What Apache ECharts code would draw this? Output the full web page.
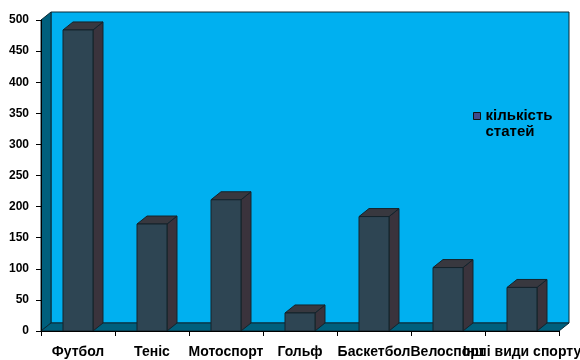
<!DOCTYPE html>
<html>
<head>
<meta charset="utf-8">
<script src="https://cdn.jsdelivr.net/npm/echarts@6/dist/echarts.min.js"></script>
<style>
  html, body { margin: 0; padding: 0; background: #ffffff; }
  #chart { width: 580px; height: 360px; }
</style>
</head>
<body>
<div id="chart"></div>
<script>
// Sports and the number of articles written about each
const categories = ['Футбол', 'Теніс', 'Мотоспорт', 'Гольф', 'Баскетбол', 'Велоспорт', 'Інші види спорту'];
const articleCounts = [484, 172, 211, 29, 184, 102, 70];
const seriesName = 'кількість статей';
const yTicks = { min: 0, max: 500, step: 50 };

// 3D depth offset of the plot box (px)
const DX = 10, DY = -8;

const FONT = '"Liberation Sans", Arial, sans-serif';

function pts(list) { return list.map(p => [p[0], p[1]]); }

// Walls and floor of the 3D plot box, built from the grid's own rectangle
function renderFrame(params, api) {
  const cs = params.coordSys;
  const x0 = cs.x, y0 = cs.y, w = cs.width, h = cs.height;
  const line = { stroke: '#0a2a36', lineWidth: 1 };
  return {
    type: 'group',
    children: [
      { type: 'rect', shape: { x: x0 + DX, y: y0 + DY, width: w, height: h },
        style: Object.assign({ fill: '#00b0f0' }, line) },
      { type: 'polygon', shape: { points: pts([[x0, y0 + h], [x0, y0], [x0 + DX, y0 + DY], [x0 + DX, y0 + h + DY]]) },
        style: Object.assign({ fill: '#005f7c' }, line) },
      { type: 'polygon', shape: { points: pts([[x0, y0 + h], [x0 + w, y0 + h], [x0 + w + DX, y0 + h + DY], [x0 + DX, y0 + h + DY]]) },
        style: Object.assign({ fill: '#005f7c' }, line) }
    ]
  };
}

// One 3D column: front face, top face and right side face
function renderBar(params, api) {
  const idx = api.value(0);
  const top = api.coord([idx, api.value(1)]);
  const base = api.coord([idx, 0]);
  const bw = api.size([1, 0])[0] * 0.405;
  const xl = top[0] - bw / 2, xr = top[0] + bw / 2;
  const yt = top[1], yb = base[1];
  const edge = { stroke: '#14232b', lineWidth: 1 };
  return {
    type: 'group',
    children: [
      { type: 'polygon', shape: { points: pts([[xr, yt], [xr + DX, yt + DY], [xr + DX, yb + DY], [xr, yb]]) },
        style: Object.assign({ fill: '#3a333c' }, edge) },
      { type: 'polygon', shape: { points: pts([[xl, yt], [xl + DX, yt + DY], [xr + DX, yt + DY], [xr, yt]]) },
        style: Object.assign({ fill: '#38383f' }, edge) },
      { type: 'rect', shape: { x: xl, y: yt, width: bw, height: yb - yt },
        style: Object.assign({ fill: '#2e4553' }, edge) }
    ]
  };
}

const chart = echarts.init(document.getElementById('chart'), null, { renderer: 'canvas' });

chart.setOption({
  animation: false,
  backgroundColor: '#ffffff',
  grid: { left: 41, right: 21, top: 20, bottom: 29, containLabel: false, outerBoundsMode: 'none' },
  legend: {
    data: [seriesName],
    left: 473,
    top: 92,
    padding: 0,
    orient: 'vertical',
    icon: 'rect',
    itemWidth: 7,
    itemHeight: 7,
    itemStyle: { borderColor: '#111111', borderWidth: 1 },
    // leading blank line keeps the marker level with the first text line
    formatter: () => ' \nкількість\nстатей',
    textStyle: {
      fontFamily: FONT, fontWeight: 'bold', fontSize: 15, color: '#000000',
      lineHeight: 16
    }
  },
  xAxis: {
    type: 'category',
    data: categories,
    z: 5,
    axisLine: { show: true, lineStyle: { color: '#000000', width: 1 } },
    axisTick: { show: true, length: 5, alignWithLabel: false, lineStyle: { color: '#000000' } },
    axisLabel: {
      interval: 0, margin: 14, hideOverlap: false,
      fontFamily: FONT, fontWeight: 'bold', fontSize: 14, color: '#000000'
    },
    splitLine: { show: false }
  },
  yAxis: {
    type: 'value',
    min: yTicks.min, max: yTicks.max, interval: yTicks.step,
    z: 5,
    axisLine: { show: true, lineStyle: { color: '#000000', width: 1 } },
    axisTick: { show: true, length: 5, lineStyle: { color: '#000000' } },
    axisLabel: { margin: 12, fontFamily: FONT, fontWeight: 'bold', fontSize: 12, color: '#000000' },
    splitLine: { show: false }
  },
  series: [
    {
      name: 'frame',
      type: 'custom',
      silent: true,
      z: 0,
      renderItem: renderFrame,
      data: [[0, 0]]
    },
    {
      name: seriesName,
      type: 'custom',
      z: 3,
      itemStyle: { color: '#3f4a8c' },
      renderItem: renderBar,
      encode: { x: 0, y: 1 },
      data: articleCounts.map((v, i) => [i, v])
    }
  ]
});
</script>
</body>
</html>
